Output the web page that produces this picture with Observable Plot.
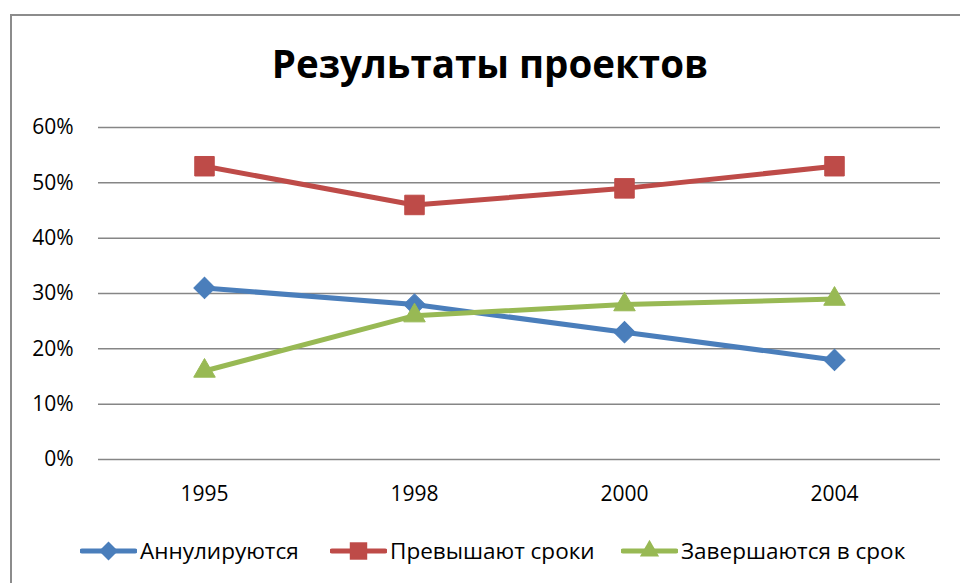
<!DOCTYPE html>
<html>
<head>
<meta charset="utf-8">
<script src="https://cdn.jsdelivr.net/npm/d3@7"></script>
<script src="https://cdn.jsdelivr.net/npm/@observablehq/plot@0.6"></script>
<style>
  html, body { margin: 0; padding: 0; background: #fff; }
  body { width: 960px; height: 583px; position: relative; overflow: hidden; font-family: "Open Sans", sans-serif; }
  #frame { position: absolute; left: 10px; top: 14px; width: 1000px; height: 700px; border-left: 2px solid #8c8c8c; border-top: 2px solid #8c8c8c; }
  #title { position: absolute; left: 0; top: 44px; width: 980px; text-align: center; font-weight: 700; font-size: 38.5px; color: #000; line-height: 1; }
  #chart { position: absolute; left: 0; top: 100px; }
  .leg { position: absolute; top: 535px; display: flex; align-items: center; font-size: 22.5px; color: #000; white-space: nowrap; }
  .leg svg { margin-right: 3px; }
</style>
</head>
<body>
<div id="frame"></div>
<div id="title">Результаты проектов</div>
<div id="chart"></div>
<div id="legend"></div>
<script>
const years = ["1995", "1998", "2000", "2004"];
const seriesNames = ["Аннулируются", "Превышают сроки", "Завершаются в срок"];
const cancelled = [0.31, 0.28, 0.23, 0.18];
const overdue = [0.53, 0.46, 0.49, 0.53];
const onTime = [0.16, 0.26, 0.28, 0.29];
const yTicks = [0, 0.1, 0.2, 0.3, 0.4, 0.5, 0.6];

const colors = ["#4A7EBB", "#BE4B48", "#98B954"];
const symbols = ["square", "square", "triangle"];
const rotates = [45, 0, 0];
const radii = [8.5, 11, 8];
const valuesBySeries = [cancelled, overdue, onTime];

const data = [];
seriesNames.forEach((s, i) => {
  years.forEach((y, j) => data.push({series: s, year: y, value: valuesBySeries[i][j], idx: i}));
});

const marks = [
  Plot.gridY(yTicks, {stroke: "#868686", strokeOpacity: 1, strokeWidth: 1.5})
];
seriesNames.forEach((s, i) => {
  const d = data.filter(r => r.idx === i);
  marks.push(Plot.line(d, {x: "year", y: "value", stroke: colors[i], strokeWidth: 5}));
});
seriesNames.forEach((s, i) => {
  const d = data.filter(r => r.idx === i);
  marks.push(Plot.dot(d, {x: "year", y: "value", symbol: () => symbols[i], fill: colors[i], stroke: colors[i], strokeWidth: 1, r: radii[i], rotate: rotates[i]}));
});

const chart = Plot.plot({
  width: 960,
  height: 420,
  marginLeft: 98,
  marginRight: 20,
  marginTop: 27,
  marginBottom: 61,
  style: {fontFamily: "'Open Sans', sans-serif", fontSize: "21px", color: "#000", background: "transparent"},
  x: {type: "point", domain: years, padding: 0.5, label: null, tickSize: 0, tickPadding: 27},
  y: {domain: [0, 0.6], ticks: yTicks, tickFormat: d3.format(".0%"), label: null, tickSize: 0, tickPadding: 25},
  symbol: {type: "identity"},
  marks
});
document.getElementById("chart").appendChild(chart);

// legend
const legPos = [80, 330, 621];
const legend = document.getElementById("legend");
seriesNames.forEach((s, i) => {
  const item = document.createElement("div");
  item.className = "leg";
  item.style.left = legPos[i] + "px";
  const sw = d3.create("svg").attr("width", 57).attr("height", 24);
  sw.append("line").attr("x1", 2).attr("x2", 55).attr("y1", 12).attr("y2", 12)
    .attr("stroke", colors[i]).attr("stroke-width", 5).attr("stroke-linecap", "round");
  const sym = (symbols[i] === "triangle" ? d3.symbolTriangle : d3.symbolSquare);
  sw.append("path").attr("d", d3.symbol(sym, Math.PI * radii[i] * radii[i] * 0.8)())
    .attr("transform", `translate(28.5,12) rotate(${rotates[i]})`)
    .attr("fill", colors[i]);
  item.appendChild(sw.node());
  const t = document.createElement("span");
  t.textContent = s;
  item.appendChild(t);
  legend.appendChild(item);
});
</script>
</body>
</html>
